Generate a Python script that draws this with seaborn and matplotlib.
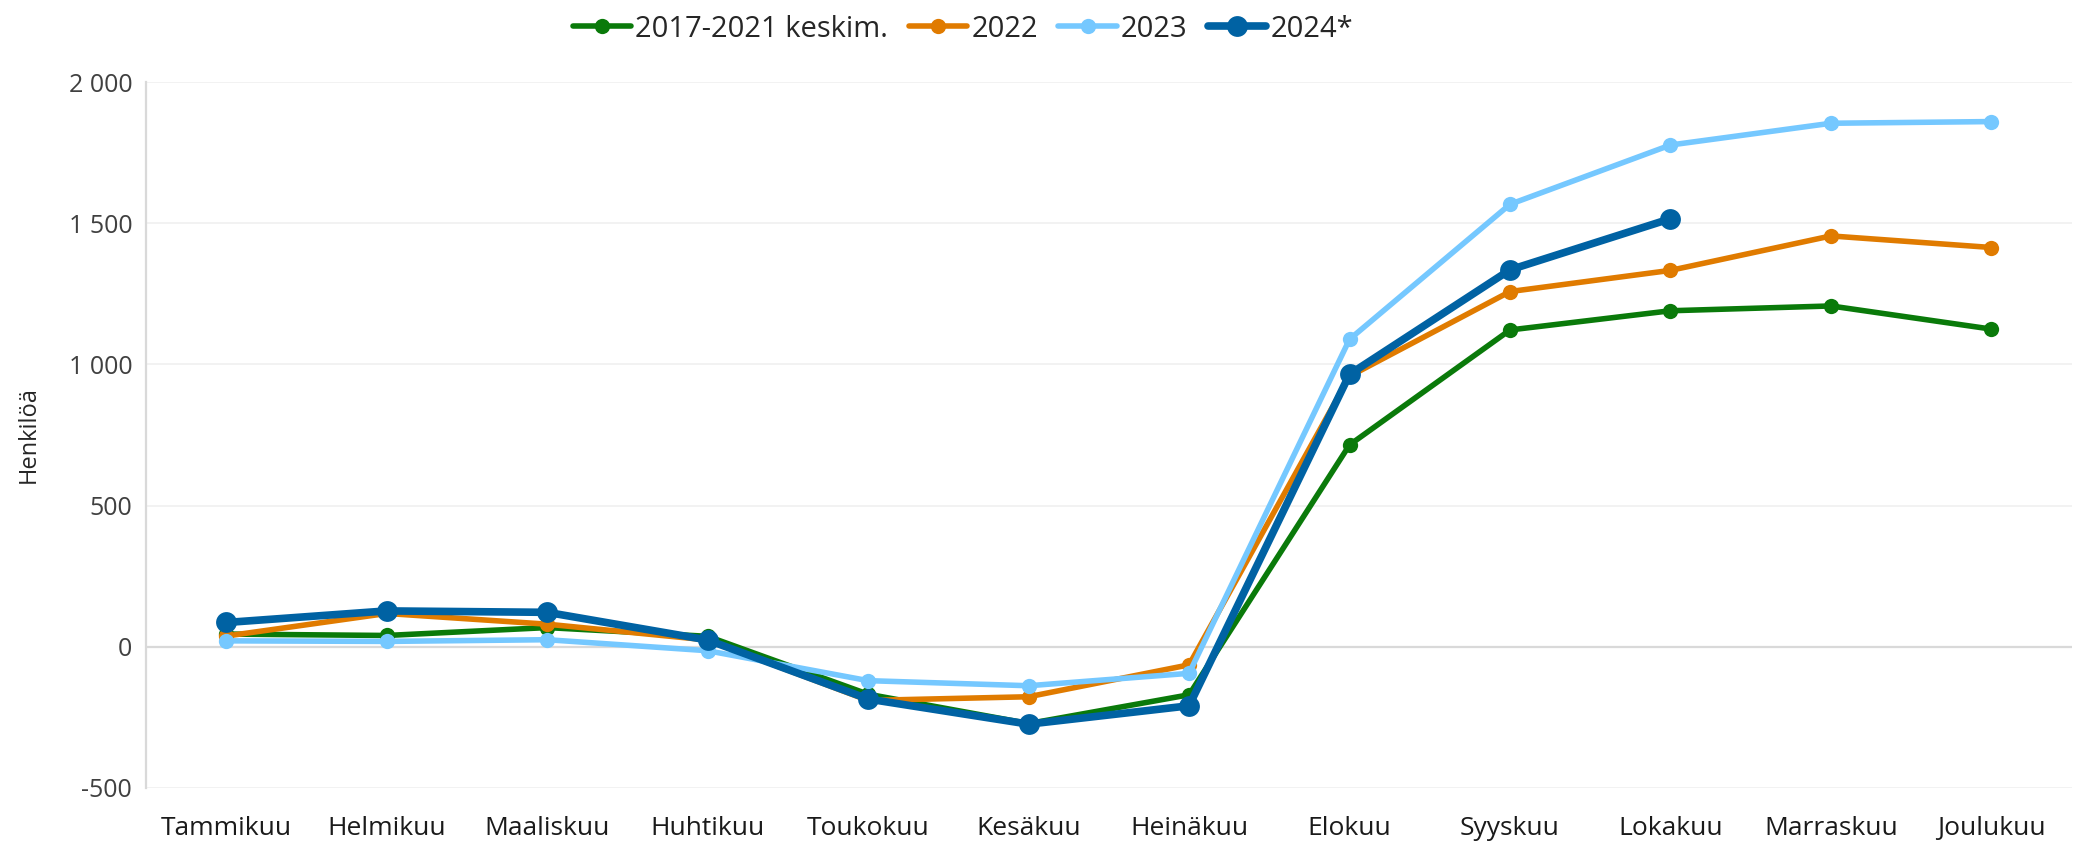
import pandas as pd
import matplotlib.pyplot as plt
import seaborn as sns

# Datos
kuukaudet = ['Tammikuu', 'Helmikuu', 'Maaliskuu', 'Huhtikuu', 'Toukokuu', 'Kesäkuu',
             'Heinäkuu', 'Elokuu', 'Syyskuu', 'Lokakuu', 'Marraskuu', 'Joulukuu']
keskiarvo = [45, 40, 68, 37, -168, -272, -170, 715, 1122, 1190, 1207, 1125]
v2022 = [38, 118, 80, 24, -190, -177, -64, 958, 1258, 1333, 1455, 1414]
v2023 = [21, 19, 25, -14, -120, -138, -94, 1089, 1567, 1777, 1854, 1860]
v2024 = [86, 127, 122, 24, -185, -274, -209, 965, 1335, 1516]

sarjat = [
    ('2017-2021 keskim.', keskiarvo, '#0a7a0a', 4.0, 11),
    ('2022', v2022, '#e07b00', 4.0, 11),
    ('2023', v2023, '#75c8ff', 4.0, 11),
    ('2024*', v2024, '#0062a3', 5.5, 15),
]

sns.set_style('white')
plt.rcParams['font.family'] = ['Open Sans', 'DejaVu Sans']

fig = plt.figure(figsize=(20.8, 8.44), dpi=100)
ax = fig.add_axes([0.0702, 0.0664, 0.9258, 0.8364])

for nimi, arvot, vari, lw, ms in sarjat:
    df = pd.DataFrame({'Kuukausi': kuukaudet[:len(arvot)], 'Henkilöä': arvot})
    sns.lineplot(data=df, x='Kuukausi', y='Henkilöä', ax=ax, color=vari, lw=lw,
                 marker='o', markersize=ms, markeredgewidth=0, label=nimi, sort=False)

ax.set_xlim(-0.5, 11.5)
ax.set_ylim(-500, 2000)
ax.set_yticks([-500, 0, 500, 1000, 1500, 2000])
ax.set_yticklabels(['-500', '0', '500', '1 000', '1 500', '2 000'])
ax.grid(axis='y', color='#f0f0f0', lw=1.2)
ax.axhline(0, color='#d9d9d9', lw=1.6, zorder=1)
ax.set_axisbelow(True)
for s in ['top', 'right', 'bottom']:
    ax.spines[s].set_visible(False)
ax.spines['left'].set_color('#d9d9d9')
ax.spines['left'].set_linewidth(1.6)
ax.tick_params(axis='both', length=0)
ax.tick_params(axis='y', labelsize=18, labelcolor='#404040', pad=10)
ax.tick_params(axis='x', labelsize=19, labelcolor='#1a1a1a', pad=20)
ax.set_xlabel('')
ax.set_ylabel('Henkilöä', fontsize=17, labelpad=20)

ax.get_legend().remove()
handles, labels = ax.get_legend_handles_labels()
fig.legend(handles, labels, loc='upper center', bbox_to_anchor=(0.463, 1.0), ncol=4,
           frameon=False, fontsize=21, handlelength=2.0, handletextpad=0.15,
           columnspacing=0.7, borderaxespad=0.1)

fig.savefig('out.png', dpi=100)
